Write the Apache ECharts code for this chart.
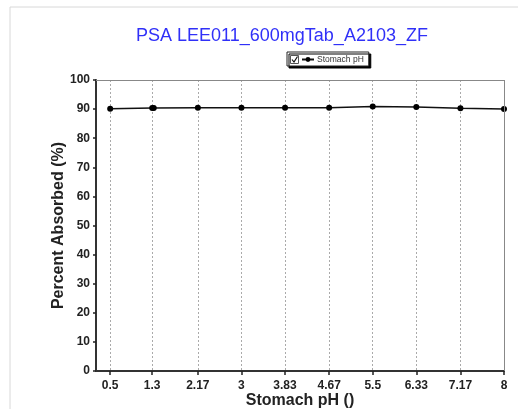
<!DOCTYPE html>
<html>
<head>
    <meta charset="UTF-8" />
    <title>PSA LEE011</title>
    <script src="https://cdn.jsdelivr.net/npm/echarts@6/dist/echarts.min.js"></script>
    <style>
        html, body { margin: 0; padding: 0; background: #fff; }
        #main { width: 518px; height: 409px; }
    </style>
</head>
<body>
<div id="main"></div>
<script type="text/javascript">
    // data
    var stomachPh = [0.5, 1.3, 1.33, 2.17, 3, 3.83, 4.67, 5.5, 6.33, 7.17, 8];
    var absorbed = [90.1, 90.4, 90.4, 90.5, 90.5, 90.5, 90.5, 90.9, 90.7, 90.25, 90.0];
    var xTicks = [0.5, 1.3, 2.17, 3, 3.83, 4.67, 5.5, 6.33, 7.17, 8];
    var yTicks = [0, 10, 20, 30, 40, 50, 60, 70, 80, 90, 100];

    var font = 'Liberation Sans, Arial, sans-serif';

    var points = [];
    for (var i = 0; i < stomachPh.length; i++) {
        points.push([stomachPh[i], absorbed[i]]);
    }

    var myChart = echarts.init(document.getElementById('main'));

    var option = {
        backgroundColor: '#fff',
        animation: false,
        title: {
            text: 'PSA LEE011_600mgTab_A2103_ZF',
            left: 277,
            textAlign: 'center',
            top: 22,
            textStyle: { color: '#3030f8', fontSize: 18, fontWeight: 'normal', fontFamily: font }
        },
        legend: {
            data: ['Stomach pH'],
            left: 287,
            top: 52,
            padding: [3, 5, 2, 14],
            itemWidth: 12,
            itemHeight: 6,
            itemGap: 2,
            backgroundColor: '#fff',
            borderColor: '#222',
            borderWidth: 1,
            borderRadius: 0,
            shadowColor: '#000',
            shadowOffsetX: 2,
            shadowOffsetY: 2,
            shadowBlur: 0,
            textStyle: { fontSize: 8.5, color: '#333', fontFamily: font, padding: [0, 0, 0, -2] }
        },
        graphic: [
            // outer light frame
            { type: 'rect', shape: { x: 10, y: 7, width: 520, height: 420 },
              style: { fill: 'none', stroke: '#d8d8d8', lineWidth: 1 }, silent: true },
            // legend checkbox
            { type: 'rect', shape: { x: 290.5, y: 55.5, width: 8, height: 8 },
              style: { fill: '#fff', stroke: '#555', lineWidth: 1 }, z: 100 },
            { type: 'polyline', shape: { points: [[292, 59.5], [294, 62], [297.5, 56.5]] },
              style: { fill: 'none', stroke: '#111', lineWidth: 1.2 }, z: 100 }
        ],
        grid: { left: 96, right: 14, top: 80, bottom: 38, outerBoundsMode: 'none', containLabel: false },
        xAxis: {
            type: 'value',
            min: 0.23,
            max: 8,
            name: 'Stomach pH ()',
            nameLocation: 'middle',
            nameGap: 22,
            nameMoveOverlap: false,
            nameTextStyle: { fontSize: 16, fontWeight: 'bold', color: '#222', fontFamily: font },
            axisLine: { show: true, onZero: false, lineStyle: { color: '#333', width: 2 } },
            axisTick: { show: true, customValues: xTicks, length: 4, lineStyle: { color: '#222', width: 1.5 } },
            axisLabel: {
                customValues: xTicks,
                margin: 9,
                fontSize: 12,
                fontWeight: 'bold',
                color: '#222',
                fontFamily: font,
                formatter: function (v) { return String(v); }
            },
            splitLine: { show: true, lineStyle: { color: '#aaa', type: [2, 2], width: 1 } }
        },
        yAxis: {
            type: 'value',
            min: 0,
            max: 100,
            interval: 10,
            name: 'Percent Absorbed (%)',
            nameLocation: 'middle',
            nameGap: 29,
            nameMoveOverlap: false,
            nameTextStyle: { fontSize: 16, fontWeight: 'bold', color: '#222', fontFamily: font },
            axisLine: { show: true, lineStyle: { color: '#333', width: 2 } },
            axisTick: { show: true, length: 3, lineStyle: { color: '#222', width: 1.5 } },
            axisLabel: {
                margin: 6,
                fontSize: 12,
                fontWeight: 'bold',
                color: '#222',
                fontFamily: font,
                formatter: function (v) { return yTicks.indexOf(v) >= 0 ? String(v) : ''; }
            },
            splitLine: { show: false }
        },
        series: [
            {
                name: 'Stomach pH',
                type: 'line',
                data: points,
                symbol: 'circle',
                symbolSize: 6,
                color: '#000',
                lineStyle: { color: '#111', width: 1.5 },
                itemStyle: { color: '#000' },
                markLine: {
                    silent: true,
                    symbol: 'none',
                    label: { show: false },
                    lineStyle: { color: '#888', type: 'solid', width: 1 },
                    data: [
                        [{ coord: [0.23, 100] }, { coord: [8, 100] }],
                        [{ coord: [8, 0] }, { coord: [8, 100] }]
                    ]
                }
            }
        ]
    };

    myChart.setOption(option);
</script>
</body>
</html>
